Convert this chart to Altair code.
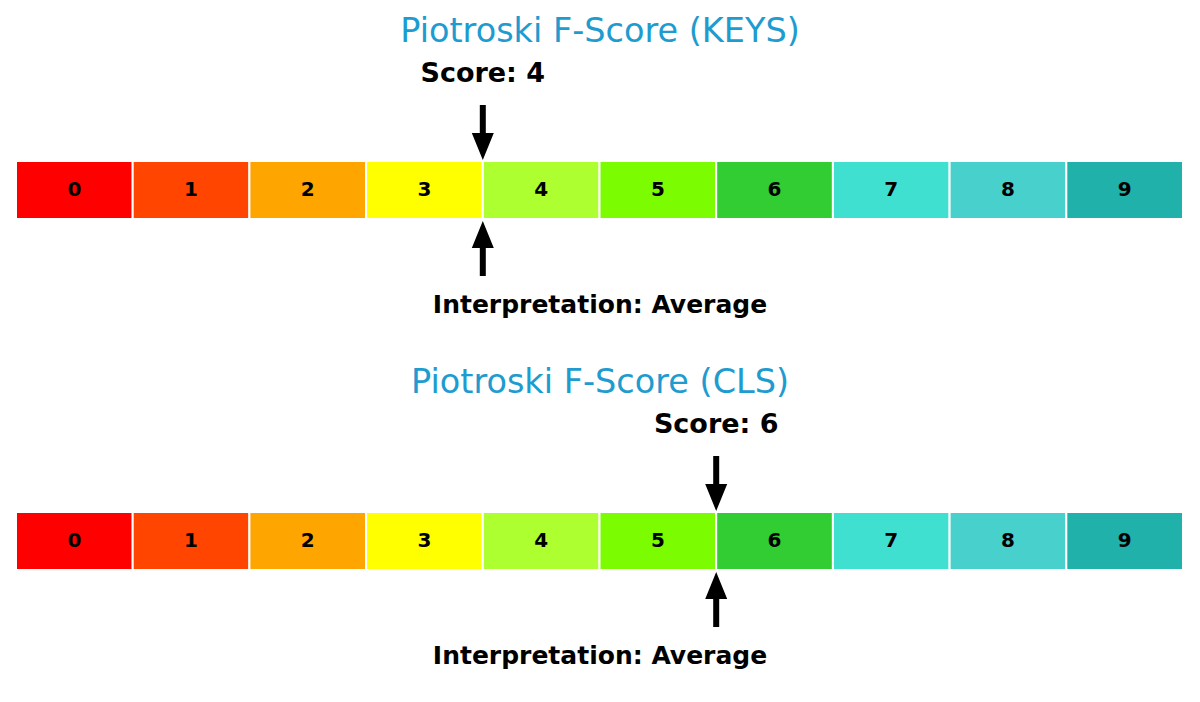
import altair as alt
import pandas as pd

# ---- data ----
cell_scores = [0, 1, 2, 3, 4, 5, 6, 7, 8, 9]
cell_colors = ["#FF0000", "#FF4500", "#FFA500", "#FFFF00", "#ADFF2F",
               "#7CFC00", "#32CD32", "#40E0D0", "#48D1CC", "#20B2AA"]
tickers = ["KEYS", "CLS"]
f_scores = [4, 6]
interpretations = ["Average", "Average"]

# ---- style / layout ----
FONT = "DejaVu Sans"
TITLE_COLOR = "#1E9BCF"
PANEL_W = 1184
PANEL_H = [351, 335]

DOWN_ARROW = "M -0.109 -1 L 0.109 -1 L 0.109 0.02 L 0.4 0.02 L 0 1 L -0.4 0.02 L -0.109 0.02 Z"
UP_ARROW = "M -0.109 1 L 0.109 1 L 0.109 -0.02 L 0.4 -0.02 L 0 -1 L -0.4 -0.02 L -0.109 -0.02 Z"

xscale = alt.Scale(domain=[0, 10], range=[8, 1175], nice=False, zero=False)


def panel(ticker, score, interp, height):
    cells = pd.DataFrame({
        "lo": cell_scores,
        "hi": [s + 1 for s in cell_scores],
        "mid": [s + 0.5 for s in cell_scores],
        "label": [str(s) for s in cell_scores],
        "color": cell_colors,
    })
    info = pd.DataFrame({
        "score": [score],
        "title": [f"Piotroski F-Score ({ticker})"],
        "score_label": [f"Score: {score}"],
        "interp_label": [f"Interpretation: {interp}"],
    })

    rects = alt.Chart(cells).mark_rect(stroke="white", strokeWidth=2).encode(
        x=alt.X("lo:Q", scale=xscale, axis=None),
        x2="hi:Q",
        y=alt.value(153),
        y2=alt.value(211),
        color=alt.Color("color:N", scale=None, legend=None),
    )
    labels = alt.Chart(cells).mark_text(
        font=FONT, fontSize=20, fontWeight="bold", color="black", baseline="middle"
    ).encode(
        x=alt.X("mid:Q", scale=xscale, axis=None),
        y=alt.value(182),
        text="label:N",
    )
    title = alt.Chart(info).mark_text(
        font=FONT, fontSize=33.5, color=TITLE_COLOR, baseline="alphabetic"
    ).encode(x=alt.value(592), y=alt.value(34), text="title:N")
    score_txt = alt.Chart(info).mark_text(
        font=FONT, fontSize=27, fontWeight="bold", color="black", baseline="alphabetic"
    ).encode(x=alt.X("score:Q", scale=xscale, axis=None), y=alt.value(74), text="score_label:N")
    interp_txt = alt.Chart(info).mark_text(
        font=FONT, fontSize=25, fontWeight="bold", color="black", baseline="alphabetic"
    ).encode(x=alt.value(592), y=alt.value(305), text="interp_label:N")
    down = alt.Chart(info).mark_point(
        shape=DOWN_ARROW, size=3025, filled=True, color="black", opacity=1, strokeWidth=0
    ).encode(x=alt.X("score:Q", scale=xscale, axis=None), y=alt.value(124.5))
    up = alt.Chart(info).mark_point(
        shape=UP_ARROW, size=3025, filled=True, color="black", opacity=1, strokeWidth=0
    ).encode(x=alt.X("score:Q", scale=xscale, axis=None), y=alt.value(240.5))

    return alt.layer(rects, labels, title, score_txt, interp_txt, down, up).properties(
        width=PANEL_W, height=height
    )


panels = [panel(t, s, i, h) for t, s, i, h in zip(tickers, f_scores, interpretations, PANEL_H)]

chart = alt.vconcat(*panels, spacing=0).properties(
    padding=0, background="white"
).configure_view(strokeWidth=0, stroke=None)

chart.save("out.html", embed_options={"renderer": "svg", "actions": False})
